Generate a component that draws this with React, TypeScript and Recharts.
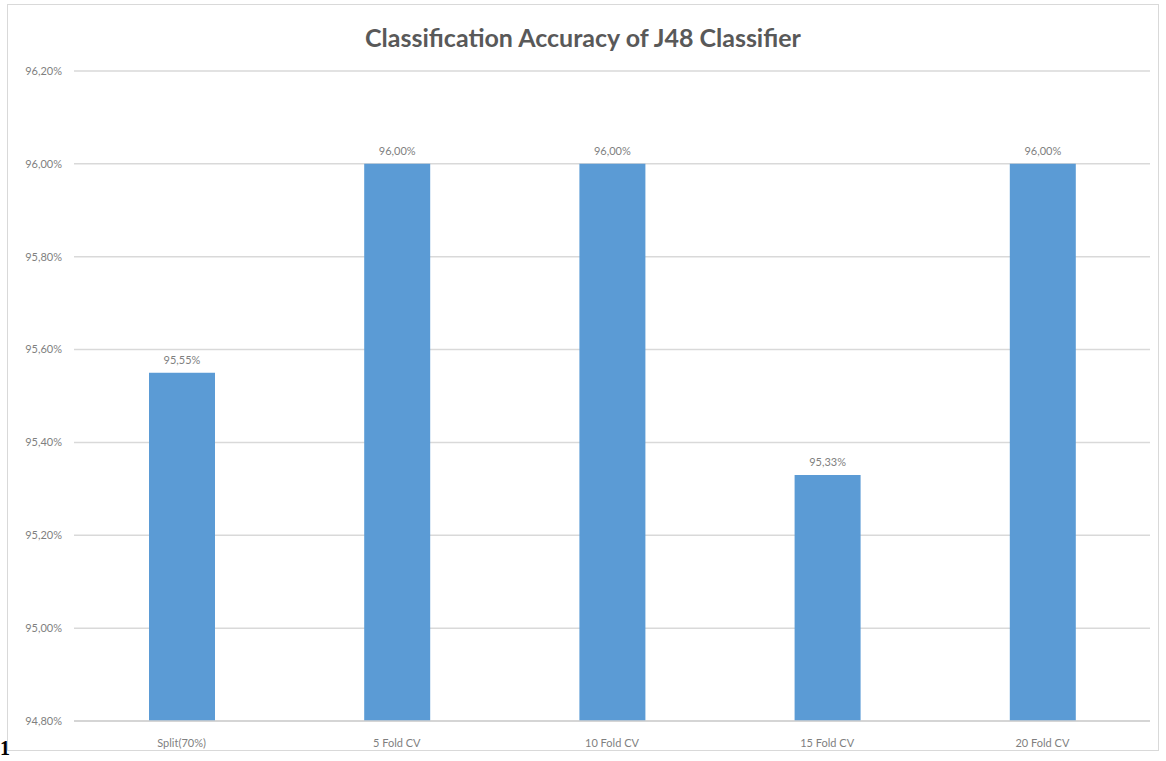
import React from 'react';
import { BarChart, Bar, XAxis, YAxis, CartesianGrid, LabelList } from 'recharts';

const categories = ['Split(70%)', '5 Fold CV', '10 Fold CV', '15 Fold CV', '20 Fold CV'];
const accuracy = [95.55, 96.0, 96.0, 95.33, 96.0];
const yTicks = [94.8, 95.0, 95.2, 95.4, 95.6, 95.8, 96.0, 96.2];

const data = categories.map((name, i) => ({ name, accuracy: accuracy[i] }));

const pct = (v: number) => v.toFixed(2).replace('.', ',') + '%';

const FONT = 'Lato, "Open Sans", sans-serif';
const GREY = '#7f7f7f';

export default function App() {
  return (
    <div style={{ position: 'absolute', left: 0, top: 0, width: 1166, height: 761, background: '#fff', overflow: 'hidden' }}>
      <div
        style={{
          position: 'absolute',
          left: 7,
          top: 4,
          width: 1152,
          height: 747,
          border: '1px solid #d9d9d9',
          boxSizing: 'border-box',
        }}
      />
      <div
        style={{
          position: 'absolute',
          left: 0,
          top: 21,
          width: 1166,
          textAlign: 'center',
          fontFamily: FONT,
          fontWeight: 700,
          fontSize: 25,
          color: '#595959',
          lineHeight: '32px',
        }}
      >
        Classification Accuracy of J48 Classifier
      </div>
      <div
        style={{
          position: 'absolute',
          left: 0,
          top: 736,
          fontFamily: 'serif',
          fontWeight: 700,
          fontSize: 20,
          lineHeight: '24px',
          color: '#000',
        }}
      >
        1
      </div>
      <div style={{ position: 'absolute', left: 0, top: 0 }}>
        <BarChart
          width={1166}
          height={761}
          data={data}
          margin={{ top: 71, right: 16, bottom: 10, left: 4 }}
        >
          <CartesianGrid vertical={false} stroke="#d9d9d9" strokeWidth={1.5} />
          <XAxis
            dataKey="name"
            height={30}
            axisLine={{ stroke: '#d0d0d0', strokeWidth: 1.5 }}
            tickLine={false}
            tickMargin={12}
            tick={{ fill: GREY, fontSize: 11, fontFamily: FONT }}
            interval={0}
          />
          <YAxis
            width={70}
            domain={[94.8, 96.2]}
            ticks={yTicks}
            axisLine={false}
            tickLine={false}
            tickMargin={6}
            tickFormatter={pct}
            tick={{ fill: GREY, fontSize: 11, fontFamily: FONT }}
            allowDataOverflow
          />
          <Bar dataKey="accuracy" fill="#5b9bd5" barSize={66} isAnimationActive={false}>
            <LabelList
              dataKey="accuracy"
              position="top"
              offset={9}
              formatter={(v: any) => pct(Number(v))}
              style={{ fill: GREY, fontSize: 11, fontFamily: FONT }}
            />
          </Bar>
        </BarChart>
      </div>
    </div>
  );
}
